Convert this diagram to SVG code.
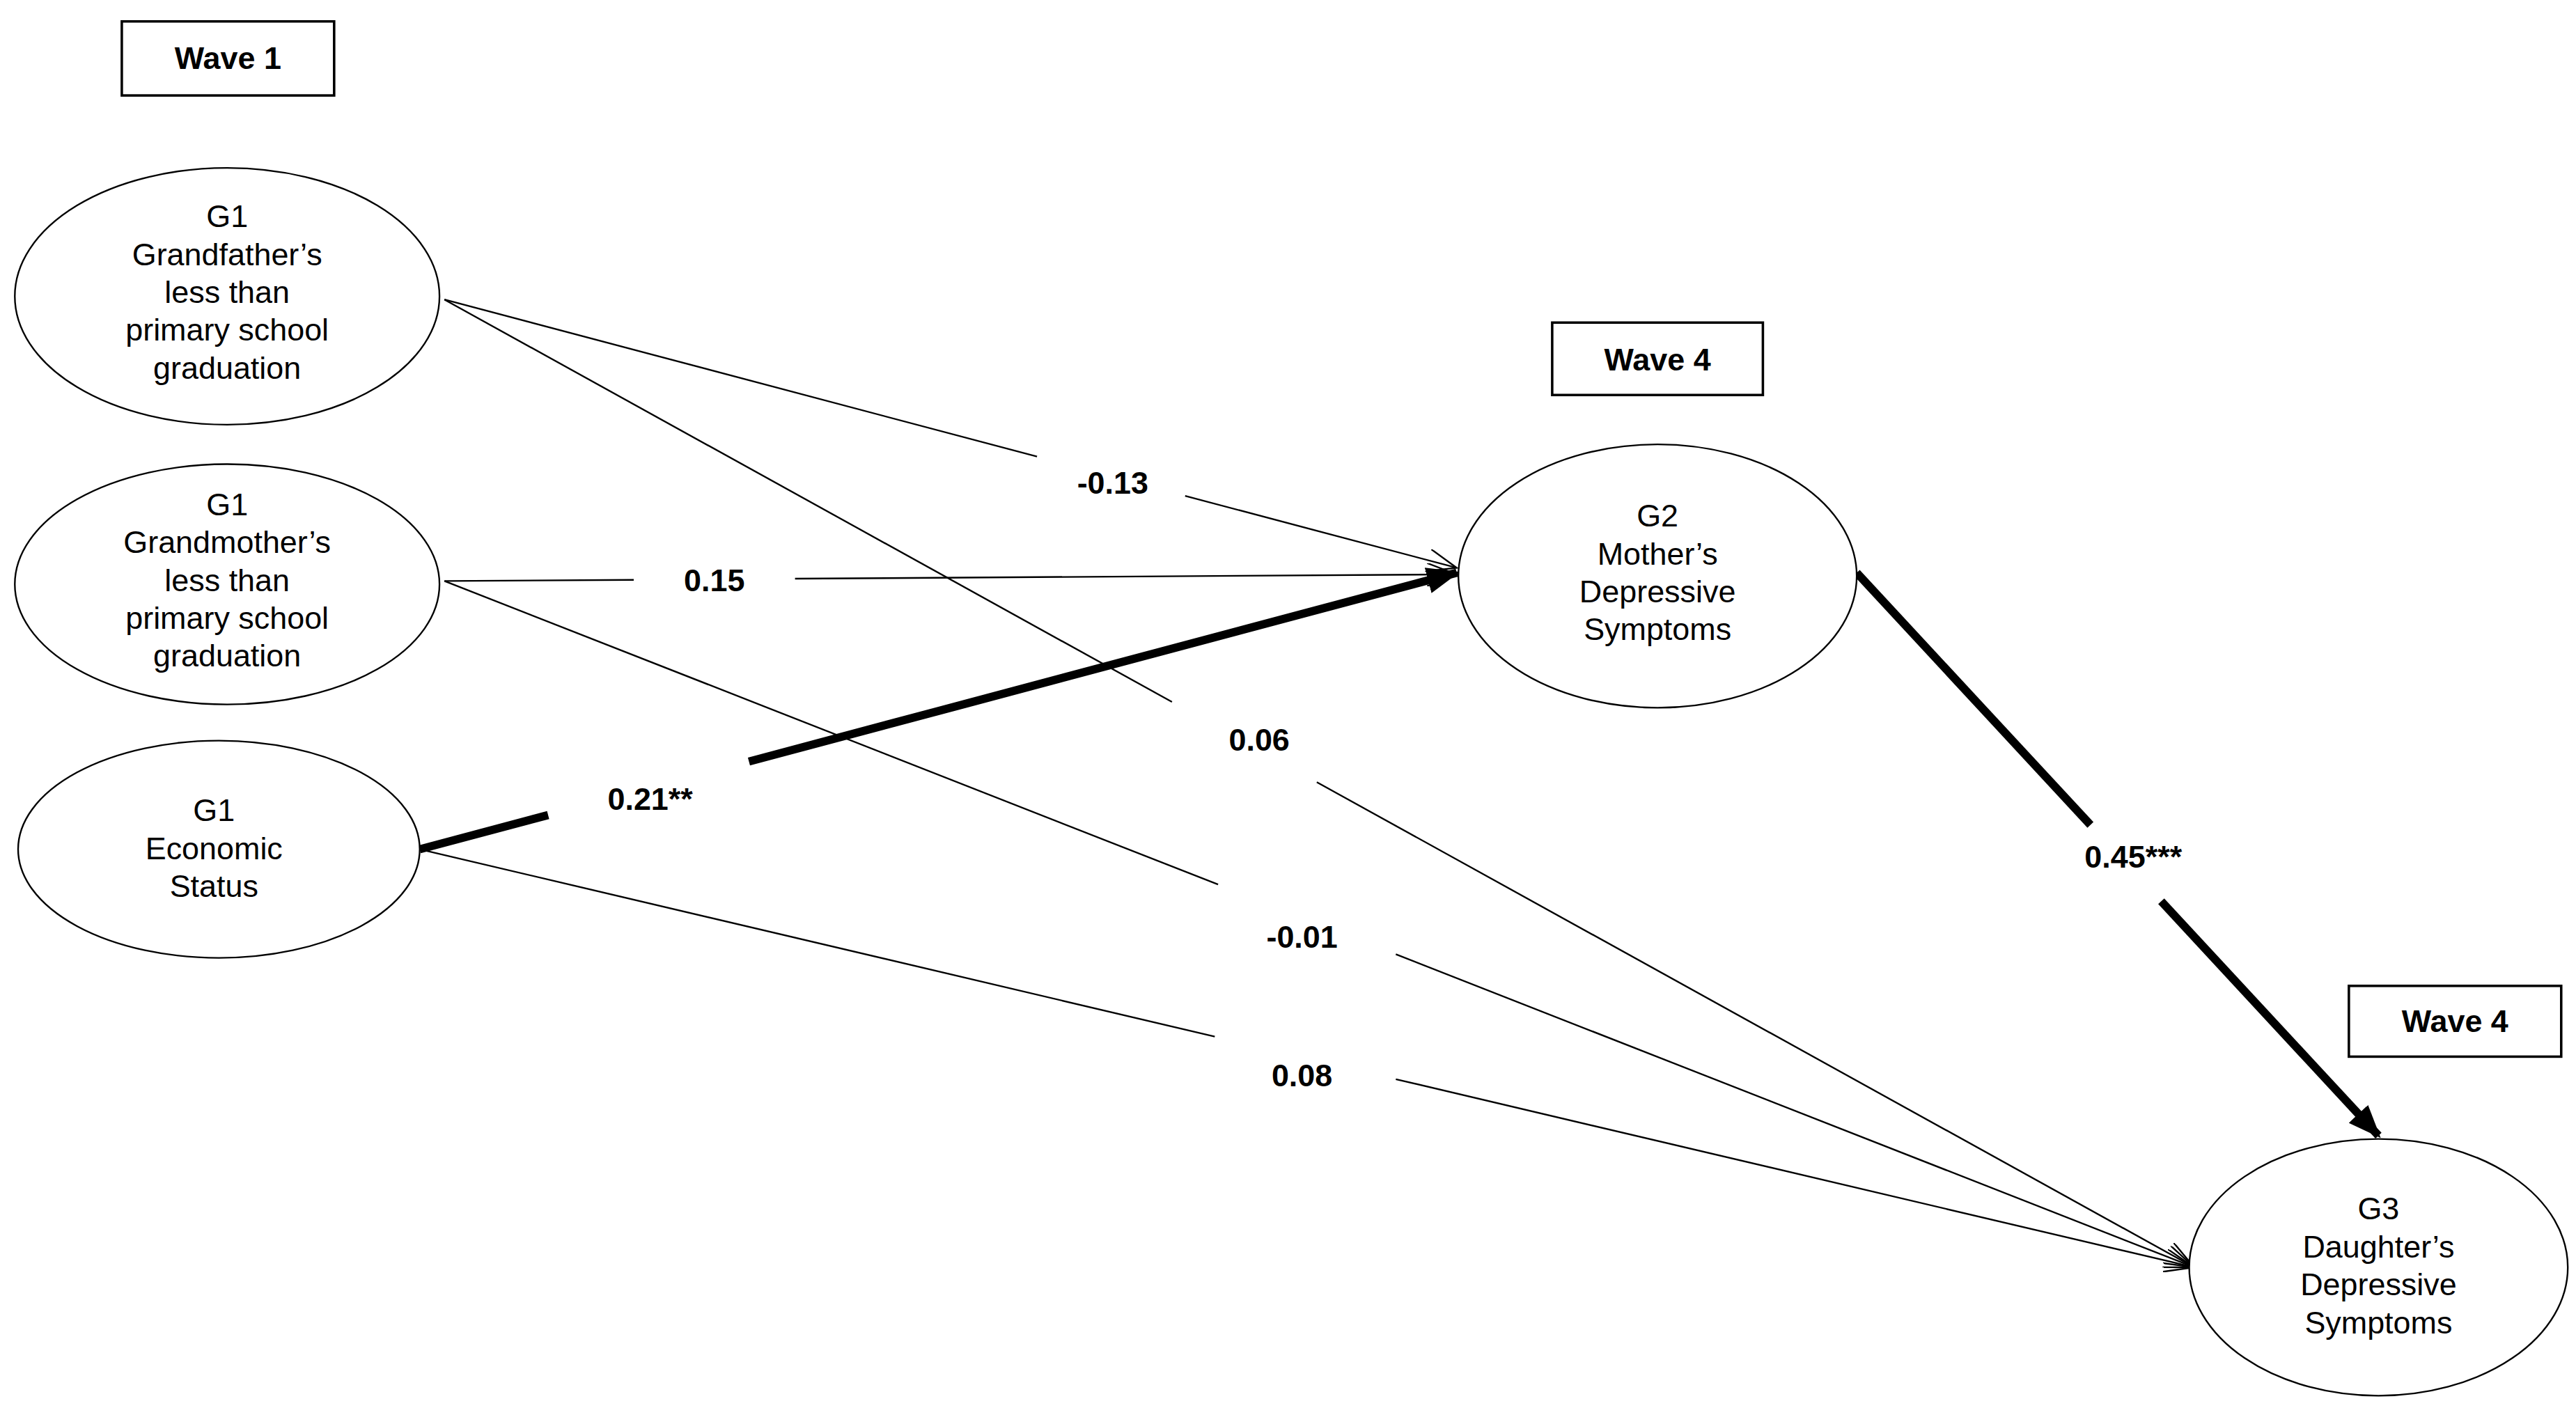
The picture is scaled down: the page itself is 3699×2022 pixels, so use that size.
<svg xmlns="http://www.w3.org/2000/svg" width="3699" height="2022" viewBox="0 0 3699 2022">
<style>
.n{fill:#fff;stroke:#000;stroke-width:1}
.t{font-family:"Liberation Sans",Arial,sans-serif;font-size:19px;text-anchor:middle;fill:#000}
.l{font-family:"Liberation Sans",Arial,sans-serif;font-size:19px;font-weight:bold;text-anchor:middle;fill:#000}
.thin{stroke:#000;stroke-width:1;fill:none}
.thick{stroke:#000;stroke-width:5;fill:none}
.b{fill:#fff;stroke:#000;stroke-width:1.5}
</style>
<defs>
<marker id="open" markerUnits="userSpaceOnUse" markerWidth="20" markerHeight="14" refX="18" refY="7" orient="auto"><path d="M0,0 L18,7 L0,14" fill="none" stroke="#000" stroke-width="1"/></marker>
<marker id="solid" markerUnits="userSpaceOnUse" markerWidth="20" markerHeight="16" refX="18" refY="8" orient="auto"><path d="M0,0 L20,8 L0,16 Z" fill="#000"/></marker>
</defs>
<rect width="3699" height="2022" fill="#fff"/>
<g transform="scale(2.3636)">
<g id="connectors">
<line class="thin" x1="270" y1="182" x2="630" y2="277.4"/><line class="thin" x1="720" y1="301.3" x2="885" y2="345" marker-end="url(#open)"/>
<line class="thin" x1="270" y1="182" x2="712" y2="426.5"/><line class="thin" x1="800" y1="475.2" x2="1333" y2="770" marker-end="url(#open)"/>
<line class="thin" x1="270" y1="353" x2="385" y2="352.3"/><line class="thin" x1="483" y1="351.6" x2="885" y2="349" marker-end="url(#open)"/>
<line class="thin" x1="270" y1="353" x2="740" y2="537.4"/><line class="thin" x1="848" y1="579.8" x2="1333" y2="770" marker-end="url(#open)"/>
<line class="thick" x1="255" y1="516" x2="333" y2="495.2"/><line class="thick" x1="455" y1="462.7" x2="885" y2="348" marker-end="url(#solid)"/>
<line class="thin" x1="255" y1="516" x2="738" y2="629.8"/><line class="thin" x1="848" y1="655.7" x2="1333" y2="770" marker-end="url(#open)"/>
<line class="thick" x1="1128" y1="348" x2="1270" y2="501.2"/><line class="thick" x1="1313" y1="547.6" x2="1445" y2="690" marker-end="url(#solid)"/>
</g>
<g id="labels">
<text class="l" x="676" y="300">-0.13</text>
<text class="l" x="765" y="456">0.06</text>
<text class="l" x="434" y="359">0.15</text>
<text class="l" x="791" y="576">-0.01</text>
<text class="l" x="395" y="492">0.21**</text>
<text class="l" x="791" y="660">0.08</text>
<text class="l" x="1296" y="527">0.45***</text>
</g>
<g id="wave1"><rect class="b" x="74" y="13" width="129" height="45"/><text class="l" x="138.5" y="42">Wave 1</text></g>
<g id="wave4a"><rect class="b" x="943" y="196" width="128" height="44"/><text class="l" x="1007" y="225">Wave 4</text></g>
<g id="wave4b"><rect class="b" x="1427" y="599" width="129" height="43"/><text class="l" x="1491.5" y="627">Wave 4</text></g>
<g id="gf"><ellipse class="n" cx="138" cy="180" rx="129" ry="78"/><text class="t" x="138" y="138">G1<tspan x="138" dy="23">Grandfather’s</tspan><tspan x="138" dy="23">less than</tspan><tspan x="138" dy="23">primary school</tspan><tspan x="138" dy="23">graduation</tspan></text></g>
<g id="gm"><ellipse class="n" cx="138" cy="355" rx="129" ry="73"/><text class="t" x="138" y="313">G1<tspan x="138" dy="23">Grandmother’s</tspan><tspan x="138" dy="23">less than</tspan><tspan x="138" dy="23">primary school</tspan><tspan x="138" dy="23">graduation</tspan></text></g>
<g id="es"><ellipse class="n" cx="133" cy="516" rx="122" ry="66"/><text class="t" x="130" y="499">G1<tspan x="130" dy="23">Economic</tspan><tspan x="130" dy="23">Status</tspan></text></g>
<g id="g2"><ellipse class="n" cx="1007" cy="350" rx="121" ry="80"/><text class="t" x="1007" y="320">G2<tspan x="1007" dy="23">Mother’s</tspan><tspan x="1007" dy="23">Depressive</tspan><tspan x="1007" dy="23">Symptoms</tspan></text></g>
<g id="g3"><ellipse class="n" cx="1445" cy="770" rx="115" ry="78"/><text class="t" x="1445" y="741">G3<tspan x="1445" dy="23">Daughter’s</tspan><tspan x="1445" dy="23">Depressive</tspan><tspan x="1445" dy="23">Symptoms</tspan></text></g>
</g>
</svg>
